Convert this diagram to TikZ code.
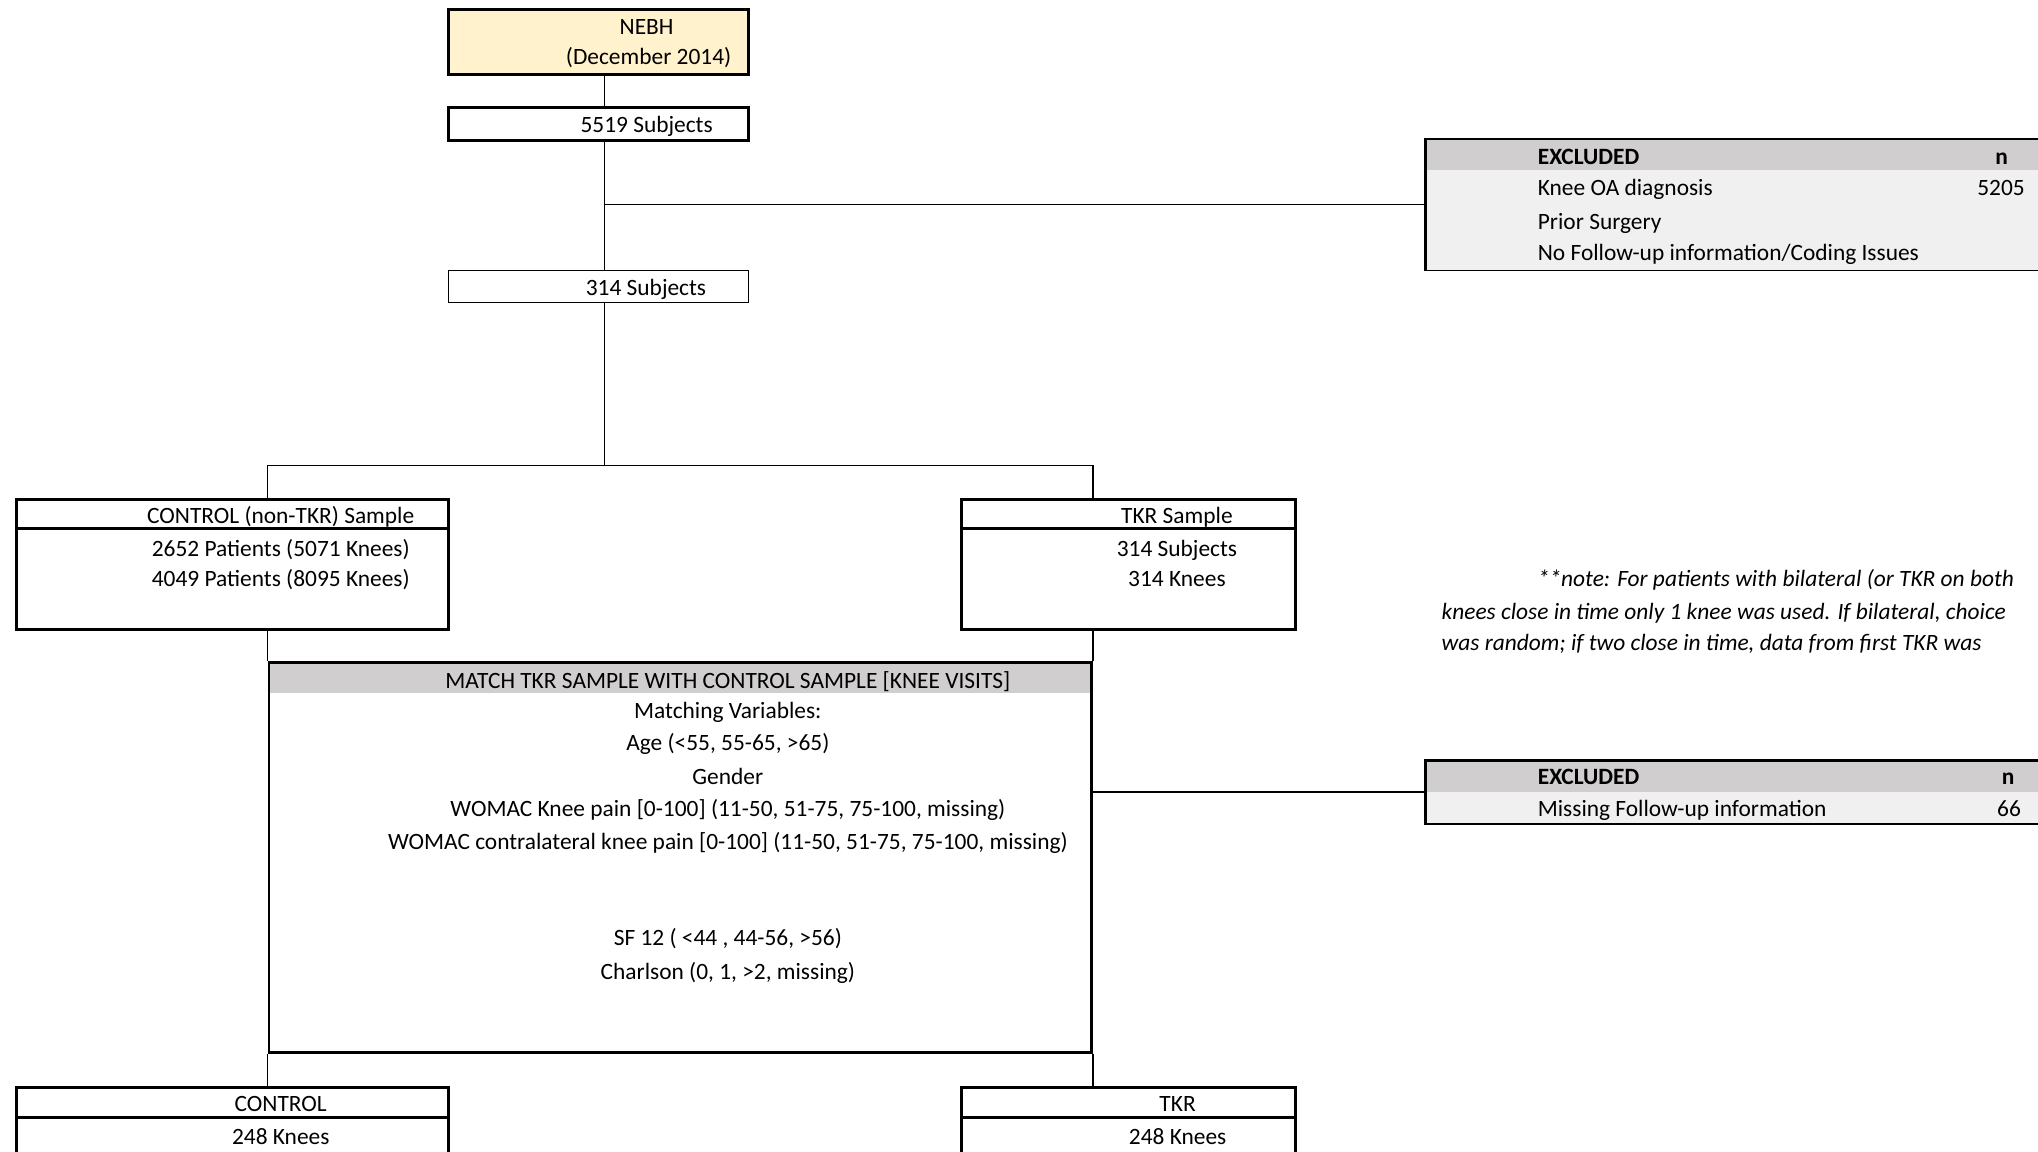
\documentclass[tikz,border=0pt]{standalone}
\usepackage{fontspec}
\setmainfont{Carlito}
\definecolor{nebhfill}{HTML}{FFF2CC}
\definecolor{hdrgray}{HTML}{D0CECE}
\definecolor{rowgray}{HTML}{F0F0F0}
\begin{document}
\begin{tikzpicture}[x=1pt,y=-1pt,
	lbl/.style={font=\fontsize{18}{22}\selectfont,inner sep=0pt,text height=16pt,text depth=3pt},
	box/.style={draw,line width=2.2pt,inner sep=0pt},
	thinbox/.style={draw,line width=1pt,inner sep=0pt},
	hdr/.style={path picture={\fill[hdrgray] (path picture bounding box.north west) rectangle ([yshift=-#1]path picture bounding box.north east);}},
	link/.style={line width=1.2pt}]
\fill[white] (0,0) rectangle (1568,886);
\useasboundingbox (0,0) rectangle (1568,886);
% boxes
\node[box,fill=nebhfill,minimum width=231pt,minimum height=50pt] (nebh) at (460.5,32) {};
\node[box,minimum width=231pt,minimum height=25pt] (subjA) at (460.5,95.5) {};
\node[thinbox,minimum width=231pt,minimum height=25pt] (subjB) at (460.5,220.5) {};
\node[box,minimum width=332pt,minimum height=100pt] (ctrl) at (179,434) {};
\node[box,minimum width=257pt,minimum height=100pt] (tkr) at (868.5,434) {};
\node[box,hdr=23pt,minimum width=633pt,minimum height=300pt] (match) at (523.5,660) {};
\node[thinbox,fill=rowgray,hdr=24pt,minimum width=503pt,minimum height=101pt] (exclA) at (1348.5,157.5) {};
\draw[line width=2.2pt] (exclA.north west) -- (exclA.south west);
\node[box,fill=rowgray,hdr=24pt,minimum width=503pt,minimum height=49pt] (exclB) at (1348.5,609.5) {};
\node[box,minimum width=332pt,minimum height=83pt] (ctrlend) at (179,878.5) {};
\node[box,minimum width=257pt,minimum height=83pt] (tkrend) at (868.5,878.5) {};
\foreach \b in {ctrl,tkr,ctrlend,tkrend}{
	\draw[line width=2.2pt] ([yshift=-24pt]\b.north west) -- ([yshift=-24pt]\b.north east);}
% connectors
\coordinate (split) at (465,358);
\draw[link] ([xshift=4.5pt]nebh.south) -- ([xshift=4.5pt]subjA.north);
\draw[link] ([xshift=4.5pt]subjA.south) -- ([xshift=4.5pt]subjB.north);
\draw[link] ([xshift=4.5pt]subjA.south |- exclA.west) -- (exclA.west);
\draw[link] ([xshift=4.5pt]subjB.south) -- (split);
\draw[link] (ctrl.north -| match.west) |- (split) -| (tkr.north -| match.east);
\draw[link] (ctrl.south -| match.west) -- (match.north west);
\draw[link] (tkr.south -| match.east) -- (match.north east);
\draw[link] (match.south west) -- (ctrlend.north -| match.west);
\draw[link] (match.south east) -- (tkrend.north -| match.east);
\draw[link] (match.east |- exclB.west) -- (exclB.west);
% texts
\node[lbl] (nebhA) at (497.5,20) {NEBH};
\node[lbl] (nebhB) at (499,43) {(December 2014)};
\node[lbl] (subjAt) at (497.5,95.5) {5519 Subjects};
\node[lbl] (subjBt) at (497,221) {314 Subjects};
\node[lbl] (ctrlA) at (216,396) {CONTROL (non-TKR) Sample};
\node[lbl] (ctrlB) at (216,422) {2652 Patients (5071 Knees)};
\node[lbl] (ctrlC) at (216,445) {4049 Patients (8095 Knees)};
\node[lbl] (tkrA) at (905.5,396) {TKR Sample};
\node[lbl] (tkrB) at (905.5,422) {314 Subjects};
\node[lbl] (tkrC) at (905.5,445) {314 Knees};
\foreach \t/\y [count=\i] in {{MATCH TKR SAMPLE WITH CONTROL SAMPLE [KNEE VISITS]}/523,
	{Matching Variables:}/546, {Age (<55, 55-65, >65)}/571, Gender/597,
	{WOMAC Knee pain [0-100] (11-50, 51-75, 75-100, missing)}/622,
	{WOMAC contralateral knee pain [0-100] (11-50, 51-75, 75-100, missing)}/647,
	{SF 12 ( <44 , 44-56, >56)}/721, {Charlson (0, 1, >2, missing)}/747}{
	\node[lbl] (var\i) at (560,\y) {\t};}
\node[lbl,anchor=west,font=\fontsize{18}{22}\selectfont\bfseries] (exclAh) at (1183,120) {EXCLUDED};
\node[lbl,font=\fontsize{18}{22}\selectfont\bfseries] (exclAn) at (1540,120) {n};
\node[lbl,anchor=west] (exclA1) at (1183,144) {Knee OA diagnosis};
\node[lbl,anchor=east] (exclAv) at (1558,144) {5205};
\node[lbl,anchor=west] (exclA2) at (1183,170) {Prior Surgery};
\node[lbl,anchor=west] (exclA3) at (1183,194) {No Follow-up information/Coding Issues};
\node[lbl,anchor=west,font=\fontsize{18}{22}\selectfont\bfseries] (exclBh) at (1183,597) {EXCLUDED};
\node[lbl,font=\fontsize{18}{22}\selectfont\bfseries] (exclBn) at (1545,597) {n};
\node[lbl,anchor=west] (exclB1) at (1183,622) {Missing Follow-up information};
\node[lbl,anchor=east] (exclBv) at (1555,622) {66};
\node[lbl,anchor=west,font=\fontsize{18}{22}\selectfont\itshape] (noteA) at (1183,445) {**note: For patients with bilateral (or TKR on both};
\node[lbl,anchor=west,font=\fontsize{18}{22}\selectfont\itshape] (noteB) at (1109,470) {knees close in time only 1 knee was used. If bilateral, choice};
\node[lbl,anchor=west,font=\fontsize{18}{22}\selectfont\itshape] (noteC) at (1109,494) {was random; if two close in time, data from first TKR was};
\node[lbl] (ctrlendA) at (216,849) {CONTROL};
\node[lbl] (ctrlendB) at (216,874) {248 Knees};
\node[lbl] (tkrendA) at (906,849) {TKR};
\node[lbl] (tkrendB) at (906,874) {248 Knees};
\end{tikzpicture}
\end{document}
